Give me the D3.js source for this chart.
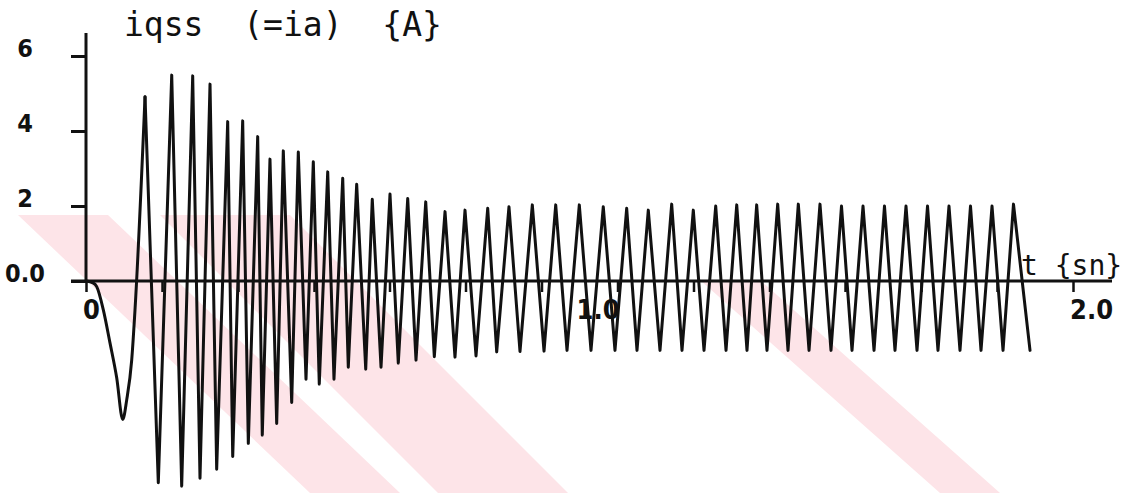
<!DOCTYPE html>
<html>
<head>
<meta charset="utf-8">
<script src="https://cdn.jsdelivr.net/npm/d3@7"></script>
<style>
  html, body { margin: 0; padding: 0; background: #fff; }
  svg { display: block; }
  .lbl { font-family: "DejaVu Sans Condensed", "DejaVu Sans", sans-serif; font-weight: bold; fill: #111; }
  .ttl { font-family: "DejaVu Sans Mono", monospace; fill: #111; }
</style>
</head>
<body>
<div id="chart"></div>
<script>
// values (t in seconds, current in A)
const startTimes = [0, 0.0142, 0.0217, 0.0351, 0.0486, 0.0622, 0.0825, 0.0926, 0.0993];
const startValues = [0, -0.05, -0.15, -0.77, -1.65, -2.58, -3.17, -2.11, -0.77];
const peakTimes = [0.1196, 0.1737, 0.2162, 0.2513, 0.2871, 0.3175, 0.3479, 0.3728, 0.3998, 0.4302,
  0.4606, 0.4898, 0.5202, 0.5485, 0.5801, 0.6160, 0.6519, 0.6884, 0.7275, 0.7680,
  0.8140, 0.8571, 0.9044, 0.9518, 0.9996, 1.0482, 1.0956, 1.1394, 1.1868, 1.2306,
  1.2760, 1.3186, 1.3590, 1.4016, 1.4434, 1.4873, 1.5309, 1.5745, 1.6180, 1.6616,
  1.7052, 1.7487, 1.7923, 1.8359, 1.8794];
const peakValues = [4.91, 5.49, 5.47, 5.25, 4.25, 4.27, 3.85, 3.25, 3.47, 3.44,
  3.18, 2.91, 2.74, 2.58, 2.18, 2.32, 2.20, 2.11, 1.85, 1.89,
  1.94, 1.98, 2.03, 2.03, 2.03, 1.98, 1.94, 1.89, 2.05, 1.89,
  2.00, 2.03, 2.03, 2.05, 2.05, 2.05, 2.00, 2.00, 2.00, 2.00,
  2.00, 2.00, 2.00, 2.00, 2.05];
const troughTimes = [0.0744, 0.1465, 0.1939, 0.2310, 0.2648, 0.2973, 0.3289, 0.3572, 0.3864, 0.4168,
  0.4458, 0.4727, 0.5025, 0.5315, 0.5668, 0.5978, 0.6328, 0.6687, 0.7058, 0.7477,
  0.7903, 0.8322, 0.8794, 0.9281, 0.9747, 1.0233, 1.0719, 1.1165, 1.1631, 1.2077,
  1.2523, 1.2969, 1.3394, 1.3799, 1.4225, 1.4651, 1.5096, 1.5522, 1.5968, 1.6393,
  1.6839, 1.7264, 1.7710, 1.8136, 1.8582, 1.9129];
const troughValues = [-3.69, -5.38, -5.47, -5.26, -5.02, -4.68, -4.33, -4.11, -3.80, -3.24,
  -2.62, -2.75, -2.62, -2.30, -2.35, -2.30, -2.19, -2.11, -2.02, -2.03,
  -2.00, -1.89, -1.88, -1.87, -1.85, -1.85, -1.85, -1.85, -1.85, -1.85,
  -1.85, -1.85, -1.85, -1.85, -1.85, -1.85, -1.85, -1.85, -1.85, -1.85,
  -1.85, -1.85, -1.85, -1.85, -1.85, -1.85];

const xTicks = [0, 0.154, 0.308, 0.462, 0.615, 0.769, 0.923, 1.077, 1.231, 1.385, 1.538, 1.692, 1.846, 2.0];
const xTickLabels = [[0, "0"], [1, "1.0"], [2, "2.0"]];
const yTicks = [0, 2, 4, 6];
const yTickLabels = ["0.0", "2", "4", "6"];

const width = 1133, height = 493;

const svg = d3.select("#chart").append("svg")
  .attr("width", width)
  .attr("height", height);

// faint pink watermark in the background
const wm = svg.append("g").attr("fill", "#fde4e8");
wm.append("polygon").attr("points", "18,215 108,215 400,493 310,493");
wm.append("polygon").attr("points", "160,215 290,215 568,493 438,493");
wm.append("polygon").attr("points", "700,280 760,280 1000,493 940,493");

const x = d3.scaleLinear().domain([0, 2]).range([86, 1073]);
const y = d3.scaleLinear().domain([0, 6]).range([281, 56]);

// x axis
const xAxis = svg.append("g")
  .attr("transform", "translate(0," + y(0) + ")")
  .call(d3.axisBottom(x).tickValues(xTicks).tickSize(11).tickFormat(""));
xAxis.select(".domain").remove();
xAxis.selectAll(".tick line").attr("stroke", "#111").attr("stroke-width", 2.5);
svg.append("line")
  .attr("x1", 71).attr("x2", 1112)
  .attr("y1", y(0)).attr("y2", y(0))
  .attr("stroke", "#111").attr("stroke-width", 3);

// y axis
const yAxis = svg.append("g")
  .attr("transform", "translate(" + x(0) + ",0)")
  .call(d3.axisLeft(y).tickValues(yTicks).tickSize(15).tickFormat(""));
yAxis.select(".domain").remove();
yAxis.selectAll(".tick line").attr("stroke", "#111").attr("stroke-width", 3);
svg.append("line")
  .attr("x1", x(0)).attr("x2", x(0))
  .attr("y1", 33).attr("y2", y(0))
  .attr("stroke", "#111").attr("stroke-width", 3);

// tick labels
svg.selectAll(".ylbl")
  .data(yTicks)
  .enter().append("text")
  .attr("class", "lbl")
  .attr("x", 25)
  .attr("y", d => y(d) + 1)
  .attr("text-anchor", "middle")
  .style("font-size", "25px")
  .text((d, i) => yTickLabels[i]);

svg.selectAll(".xlbl")
  .data(xTickLabels)
  .enter().append("text")
  .attr("class", "lbl")
  .attr("x", d => x(d[0]) - 3)
  .attr("y", 319)
  .style("font-size", "27px")
  .text(d => d[1]);

// titles
svg.append("text")
  .attr("class", "ttl")
  .attr("x", 124)
  .attr("y", 36)
  .style("font-size", "33px")
  .attr("xml:space", "preserve")
  .text("iqss  (=ia)  {A}");

svg.append("text")
  .attr("class", "ttl")
  .attr("x", 1021)
  .attr("y", 275)
  .style("font-size", "28px")
  .attr("xml:space", "preserve")
  .text("t {sn}");

// waveform: smooth first swing, then the fast oscillation as straight strokes
const pts = [];
startTimes.forEach((t, i) => pts.push({ t: t, v: startValues[i] }));
peakTimes.forEach((t, i) => pts.push({ t: t, v: peakValues[i] }));
troughTimes.forEach((t, i) => pts.push({ t: t, v: troughValues[i] }));
pts.sort((a, b) => a.t - b.t);

const firstPeak = peakTimes[0];
const head = pts.filter(d => d.t <= firstPeak);
const tail = pts.filter(d => d.t >= firstPeak);

const smooth = d3.line()
  .x(d => x(d.t))
  .y(d => y(d.v))
  .curve(d3.curveMonotoneX);
const straight = d3.line()
  .x(d => x(d.t))
  .y(d => y(d.v));

svg.append("path")
  .datum(head)
  .attr("fill", "none")
  .attr("stroke", "#111")
  .attr("stroke-width", 3)
  .attr("stroke-linecap", "round")
  .attr("d", smooth);

svg.append("path")
  .datum(tail)
  .attr("fill", "none")
  .attr("stroke", "#111")
  .attr("stroke-width", 3)
  .attr("stroke-linejoin", "round")
  .attr("stroke-linecap", "round")
  .attr("d", straight);
</script>
</body>
</html>
